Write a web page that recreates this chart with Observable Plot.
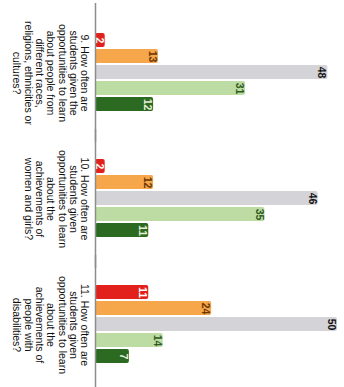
<!DOCTYPE html>
<html>
<head>
<meta charset="utf-8">
<script src="https://cdn.jsdelivr.net/npm/d3@7"></script>
<script src="https://cdn.jsdelivr.net/npm/@observablehq/plot@0.6"></script>
<style>
  html, body { margin: 0; padding: 0; background: #fff; }
  #chart svg { display: block; }
</style>
</head>
<body>
<div id="chart"></div>
<script>
// Questions (category labels)
const questions = ["Q9", "Q10", "Q11"];
const questionLabels = [
  "9. How often are\nstudents given the\nopportunities to learn\nabout people from\ndifferent races,\nreligions, ethnicities or\ncultures?",
  "10. How often are\nstudents given\nopportunities to learn\nabout the\nachievements of\nwomen and girls?",
  "11. How often are\nstudents given\nopportunities to learn\nabout the\nachievements of\npeople with\ndisabilities?"
];
// Response series
const seriesNames = ["Never", "Rarely", "Sometimes", "Often", "Very often"];
const seriesColors = ["#e3211c", "#f6a64b", "#d4d4d8", "#bddca3", "#2b6a20"];
const labelColors = ["#ffffff", "#6b3500", "#111111", "#2e5a1c", "#e4f0da"];
// Values (percent) per question, in series order
const q9Values = [2, 13, 48, 31, 12];
const q10Values = [2, 12, 46, 35, 11];
const q11Values = [11, 24, 50, 14, 7];

const valuesByQuestion = [q9Values, q10Values, q11Values];
const rows = [];
questions.forEach((q, i) => {
  seriesNames.forEach((s, j) => {
    rows.push({question: q, series: s, value: valuesByQuestion[i][j]});
  });
});
const labelRows = questions.map((q, i) => ({question: q, label: questionLabels[i]}));

const textMarks = seriesNames.map((s, j) =>
  Plot.text(rows.filter(d => d.series === s), {
    x: "value", y: "series", fy: "question", text: d => String(d.value),
    rotate: 90, dx: -6, fill: labelColors[j], fontWeight: "bold", fontSize: 10.5,
    textAnchor: "middle", lineAnchor: "middle"
  })
);

const chart = Plot.plot({
  width: 344,
  height: 387,
  marginLeft: 95,
  marginRight: 7,
  marginTop: 32,
  marginBottom: 22,
  style: {fontFamily: "'Liberation Sans', Arial, sans-serif", background: "#fff"},
  x: {domain: [0, 50], axis: null},
  y: {domain: seriesNames, paddingInner: 0.12, paddingOuter: 0, axis: null},
  fy: {domain: questions, paddingInner: 0.37, paddingOuter: 0, axis: null},
  color: {domain: seriesNames, range: seriesColors},
  marks: [
    Plot.barX(rows, {x: "value", y: "series", fy: "question", fill: "series", rx: 2}),
    ...textMarks,
    Plot.text(labelRows, {
      fy: "question", text: "label", frameAnchor: "left", dx: -6,
      rotate: 90, lineAnchor: "top", textAnchor: "middle",
      fontSize: 10.5, lineHeight: 1.08, fill: "#111"
    }),
    Plot.ruleX([0], {stroke: "#8c8c8c", strokeWidth: 1.5, insetTop: -30, insetBottom: -30})
  ]
});
document.getElementById("chart").appendChild(chart);
</script>
</body>
</html>
